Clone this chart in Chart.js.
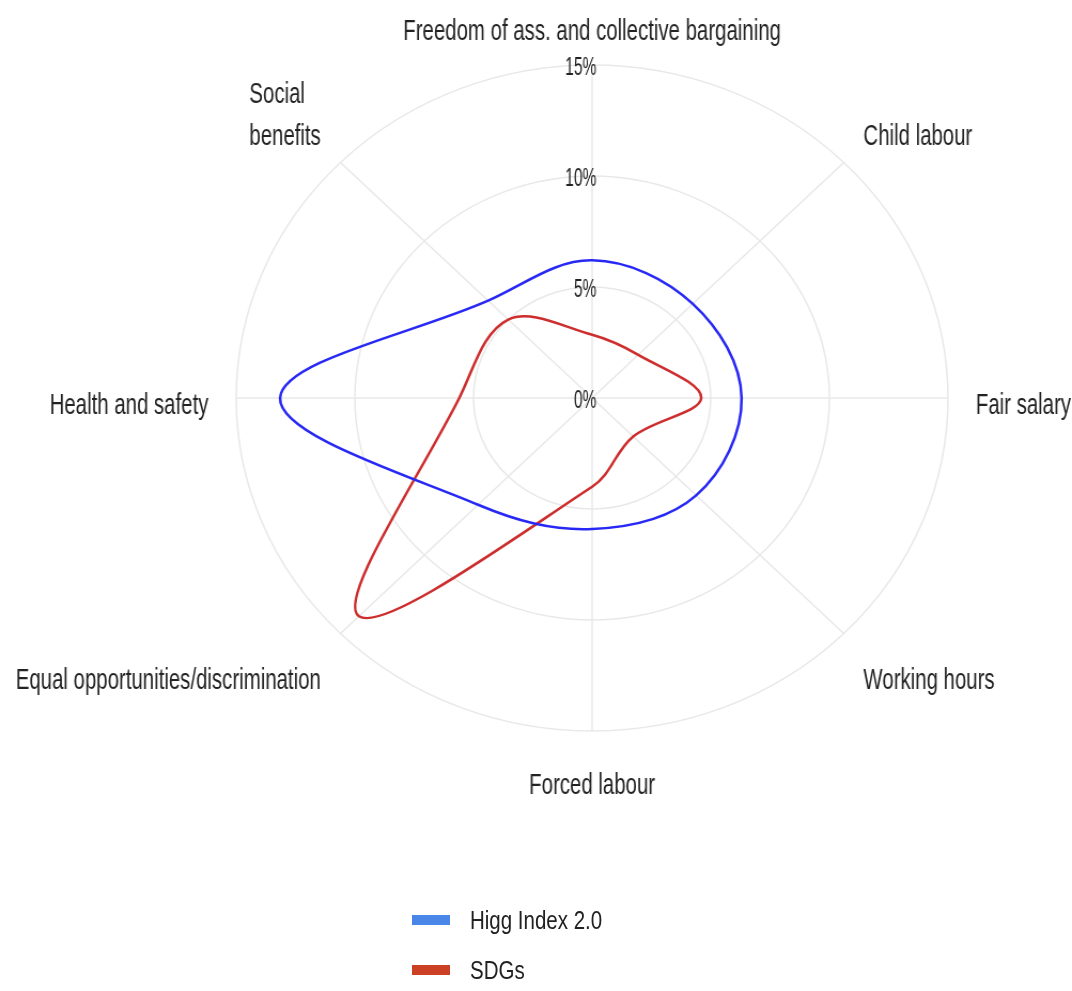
<!DOCTYPE html>
<html>
<head>
<meta charset="utf-8">
<script src="https://cdn.jsdelivr.net/npm/chart.js@4.4.1/dist/chart.umd.min.js"></script>
<style>
  body { margin: 0; background: #fff; font-family: "Liberation Sans", Arial, sans-serif; }
  #wrap { position: relative; width: 1072px; height: 991px; overflow: hidden; }
  /* the plot is a little wider than tall, so the canvas gets stretched sideways */
  #stretch { width: 1003px; height: 991px; transform: scaleX(1.0688); transform-origin: 0 0; }
  #legend { position: absolute; left: 412px; top: 905px; }
  .item { display: flex; align-items: center; height: 30px; margin-bottom: 20px; }
  .swatch { width: 38px; height: 10px; margin-right: 20px; }
  .item span { font-size: 25px; color: #222; display: inline-block; transform: scaleX(0.82); transform-origin: 0 50%; white-space: nowrap; }
</style>
</head>
<body>
<div id="wrap">
  <div id="stretch"><canvas id="radarChart"></canvas></div>
  <div id="legend"></div>
</div>
<script>
// Axis names, clockwise from the top
const categories = [
    'Freedom of ass. and collective bargaining',
    'Child labour',
    'Fair salary',
    'Working hours',
    'Forced labour',
    'Equal opportunities/discrimination',
    'Health and safety',
    ['Social', 'benefits']
];

// Share of each topic, in percent
const higgValues = [6.2, 6.0, 6.3, 6.2, 5.9, 6.8, 13.15, 6.2];
const sdgValues = [2.85, 2.75, 4.6, 2.45, 4.0, 13.9, 5.6, 5.0];

const tickValues = [0, 5, 10, 15];

const higgLine = 'rgb(40, 40, 245)';
const sdgLine = 'rgb(205, 45, 45)';
const higgKey = '#4a86e8';
const sdgKey = '#cc4125';

// Same number as the CSS scaleX on #stretch
const STRETCH = 1.0688;

// Canvas text squeezed horizontally, drawn from its left edge
function drawSqueezed(ctx, text, x, y, squeeze) {
    ctx.save();
    ctx.translate(x, y);
    ctx.scale(squeeze, 1);
    ctx.textAlign = 'left';
    ctx.textBaseline = 'middle';
    ctx.fillText(text, 0, 0);
    ctx.restore();
}

// Category names around the outer ring and the % labels on the top spoke
const radarText = {
    id: 'radarText',
    afterDraw(chart) {
        const ctx = chart.ctx;
        const scale = chart.scales.r;
        const count = chart.data.labels.length;

        // point labels
        const fontSize = 30;
        const lineGap = 42;
        const squeeze = 0.68 / STRETCH;
        ctx.font = fontSize + 'px "Liberation Sans", Arial, sans-serif';
        ctx.fillStyle = '#222';
        chart.data.labels.forEach((label, i) => {
            const lines = [].concat(label);
            const deg = i * 360 / count;
            const pos = scale.getPointPosition(i, scale.drawingArea + 26);
            const blockH = fontSize + (lines.length - 1) * lineGap;
            const blockW = Math.max(...lines.map(l => ctx.measureText(l).width)) * squeeze;

            let left;
            if (deg === 0 || deg === 180) left = pos.x - blockW / 2;
            else if (deg < 180) left = pos.x;
            else left = pos.x - blockW;

            let top;
            if (deg === 90 || deg === 270) top = pos.y - blockH / 2;
            else if (deg < 90 || deg > 270) top = pos.y - blockH;
            else top = pos.y + 6;  // lower labels sit a bit further out
            top += 8;

            lines.forEach((line, n) => {
                drawSqueezed(ctx, line, left, top + fontSize / 2 + n * lineGap, squeeze);
            });
        });

        // tick labels
        const tickSqueeze = 0.6 / STRETCH;
        ctx.font = '26px "Liberation Sans", Arial, sans-serif';
        scale.ticks.forEach(tick => {
            const w = ctx.measureText(tick.label).width * tickSqueeze;
            const y = scale.yCenter - scale.getDistanceFromCenterForValue(tick.value) + 3;
            drawSqueezed(ctx, tick.label, scale.xCenter + 4 - w, y, tickSqueeze);
        });
    }
};

const radarChart = new Chart(document.getElementById('radarChart'), {
    type: 'radar',
    data: {
        labels: categories,
        datasets: [
            {
                label: 'Higg Index 2.0',
                data: higgValues,
                borderColor: higgLine,
                keyColor: higgKey,
                borderWidth: 2.5,
                fill: false
            },
            {
                label: 'SDGs',
                data: sdgValues,
                borderColor: sdgLine,
                keyColor: sdgKey,
                borderWidth: 2.5,
                fill: false
            }
        ]
    },
    options: {
        responsive: true,
        maintainAspectRatio: false,
        animation: false,
        devicePixelRatio: 1,
        layout: {
            padding: { left: 221, right: 116, top: 65, bottom: 260 }
        },
        elements: {
            point: { radius: 0, hoverRadius: 0 },
            line: { tension: 0.36 }
        },
        plugins: {
            legend: { display: false },
            tooltip: { enabled: false }
        },
        scales: {
            r: {
                min: tickValues[0],
                max: tickValues[tickValues.length - 1],
                ticks: {
                    stepSize: tickValues[1] - tickValues[0],
                    display: false,
                    callback: v => v + '%'
                },
                pointLabels: { display: false },
                grid: { circular: true, color: '#e8e8e8', lineWidth: 1.5 },
                angleLines: { color: '#e8e8e8', lineWidth: 1.5 }
            }
        }
    },
    plugins: [radarText]
});

// Stacked legend under the chart
const legendBox = document.getElementById('legend');
radarChart.data.datasets.forEach(ds => {
    const item = document.createElement('div');
    item.className = 'item';
    const swatch = document.createElement('div');
    swatch.className = 'swatch';
    swatch.style.background = ds.keyColor;
    const text = document.createElement('span');
    text.textContent = ds.label;
    item.appendChild(swatch);
    item.appendChild(text);
    legendBox.appendChild(item);
});
</script>
</body>
</html>
